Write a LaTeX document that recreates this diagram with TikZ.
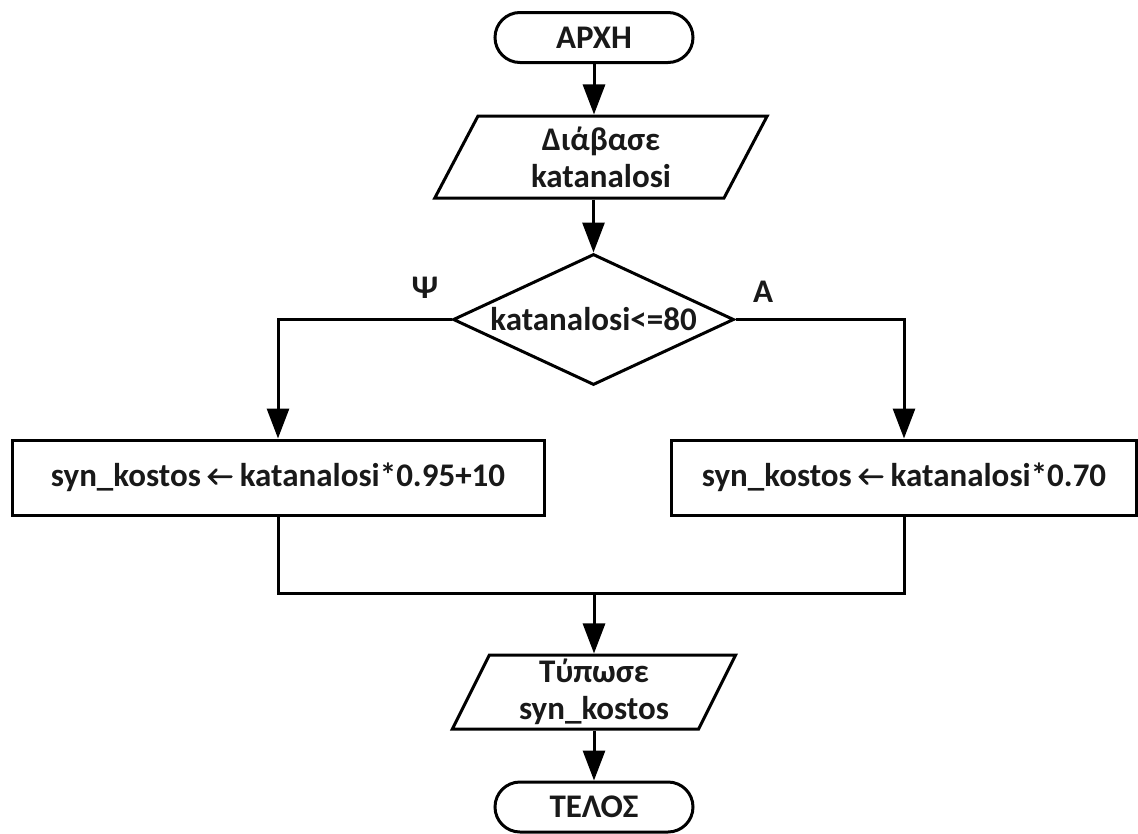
\documentclass[tikz,border=0pt]{standalone}
\usepackage{fontspec}
\setmainfont{Carlito}
\usetikzlibrary{shapes.geometric,arrows.meta}
\newsavebox\arrbox
\begin{document}
\sbox\arrbox{\begin{pgfpicture}%
\pgfpathrectangle{\pgfpointorigin}{\pgfpoint{24pt}{18pt}}\pgfusepath{use as bounding box}%
\pgfsetbaseline{0pt}%
\pgfsetlinewidth{2.8pt}\pgfsetroundcap\pgfsetmiterjoin
\color{black!90}%
\pgfpathmoveto{\pgfpoint{8pt}{17pt}}\pgfpathlineto{\pgfpoint{1pt}{10pt}}\pgfpathlineto{\pgfpoint{8pt}{3pt}}%
\pgfpathmoveto{\pgfpoint{1pt}{10pt}}\pgfpathlineto{\pgfpoint{23pt}{10pt}}%
\pgfusepath{stroke}%
\end{pgfpicture}}%
\begin{tikzpicture}[x=1pt,y=-1pt,
  font=\fontsize{33}{37}\selectfont\bfseries,
  base/.style={draw, line width=3pt, fill=white, align=center, inner sep=0pt, text=black!90},
  term/.style={base, rounded corners=25pt, minimum width=198pt, minimum height=50pt},
  io/.style={base, trapezium, trapezium left angle=68, trapezium right angle=112,
             trapezium stretches=true},
  decision/.style={base, diamond, aspect=2.145, minimum width=281pt, minimum height=131pt},
  proc/.style={base, rectangle, minimum height=75pt},
  lbl/.style={text=black!90, inner sep=0pt},
  flow/.style={line width=3pt, -{Triangle[length=30pt,width=22pt]}},
  plain/.style={line width=3pt}
]
\useasboundingbox (0,0) rectangle (1138,833);

\node[term] (start) at (594,37.5) {ΑΡΧΗ};
\node[io, minimum width=333pt, minimum height=82pt] (read) at (601,157) {Διάβασε\\katanalosi};
\node[decision] (dec) at (593.5,319.5) {katanalosi<=80};
\node[proc, minimum width=532pt] (pl) at (278,477.5) {syn\_kostos \usebox\arrbox{} katanalosi*0.95+10};
\node[proc, minimum width=465pt] (pr) at (904,477.5) {syn\_kostos \usebox\arrbox{} katanalosi*0.70};
\node[io, minimum width=284pt, minimum height=74pt] (print) at (594,692) {Τύπωσε\\syn\_kostos};
\node[term] (end) at (594,807) {ΤΕΛΟΣ};

\node[lbl] (ly) at (425,288) {Ψ};
\node[lbl] (la) at (763,292) {Α};

\coordinate (m) at (594,593);

\draw[flow] (start.south) -- (start.south |- read.north);
\draw[flow] (read.south -| dec.north) -- (dec.north);
\draw[flow] (dec.west) -| (pl.north);
\draw[flow] (dec.east) -| (pr.north);
\draw[plain] (pl.south) |- (m) -| (pr.south);
\draw[flow] (m) -- (m |- print.north);
\draw[flow] (print.south -| m) -- (end.north);
\end{tikzpicture}
\end{document}
